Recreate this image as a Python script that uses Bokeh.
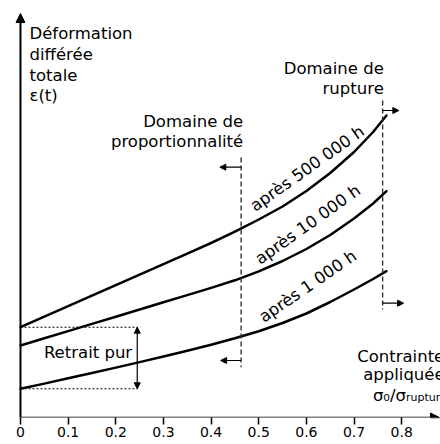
from bokeh.plotting import figure
from bokeh.models import Arrow, NormalHead, Label, FixedTicker, Range1d
from bokeh.embed import file_html
from bokeh.resources import INLINE

# ---------------- data ----------------
# applied stress ratio sigma0 / sigma_rupture
stress = [0.00, 0.05, 0.10, 0.15, 0.20, 0.25, 0.30, 0.35, 0.40, 0.45,
          0.50, 0.55, 0.60, 0.65, 0.70, 0.74, 0.768]
# total delayed strain (arbitrary units)
strain_500000h = [0.903, 1.008, 1.113, 1.218, 1.323, 1.428, 1.533, 1.638, 1.745, 1.858,
                  1.980, 2.110, 2.265, 2.445, 2.655, 2.855, 3.020]
strain_10000h = [0.720, 0.792, 0.864, 0.936, 1.008, 1.080, 1.152, 1.224, 1.296, 1.372,
                 1.462, 1.565, 1.685, 1.825, 1.990, 2.140, 2.263]
strain_1000h = [0.287, 0.339, 0.392, 0.445, 0.499, 0.554, 0.610, 0.668, 0.728, 0.792,
                0.862, 0.945, 1.040, 1.155, 1.280, 1.385, 1.463]
curve_labels = ["après 500 000 h", "après 10 000 h", "après 1 000 h"]

limit_proportionality = 0.463
limit_rupture = 0.760
shrinkage_x = 0.246

x_ticks = [0, 0.1, 0.2, 0.3, 0.4, 0.5, 0.6, 0.7, 0.8]
x_tick_labels = ["0", "0.1", "0.2", "0.3", "0.4", "0.5", "0.6", "0.7", "0.8"]

FONT = "DejaVu Sans"
FS = "16.5px"

p = figure(width=440, height=444, output_backend="svg", toolbar_location=None,
           x_range=Range1d(-0.04197, 0.88143), y_range=Range1d(0, 4.17),
           min_border_left=0, min_border_right=0, min_border_top=0, min_border_bottom=27)
p.outline_line_color = None
p.grid.visible = False
p.yaxis.visible = False
p.background_fill_color = "white"
p.border_fill_color = "white"

ax = p.xaxis[0]
ax.ticker = FixedTicker(ticks=x_ticks)
ax.major_label_overrides = {t: l for t, l in zip(x_ticks, x_tick_labels)}
ax.axis_line_color = None
ax.major_tick_out = 7
ax.major_tick_in = 0
ax.major_tick_line_width = 1.5
ax.major_tick_line_color = "black"
ax.minor_tick_line_color = None
ax.major_label_standoff = 2
ax.major_label_text_font = FONT
ax.major_label_text_font_size = "14px"
ax.major_label_text_color = "black"

# axes with arrow heads
p.add_layout(Arrow(end=NormalHead(size=9, fill_color="black", line_color="black"),
                   x_start=0, y_start=0, x_end=0, y_end=4.04,
                   line_width=2, line_color="black"))
p.add_layout(Arrow(end=NormalHead(size=9, fill_color="black", line_color="black"),
                   x_start=0, y_start=0, x_end=0.8793, y_end=0,
                   line_width=1.6, line_color="black"))

# curves
for ys in (strain_500000h, strain_10000h, strain_1000h):
    p.line(stress, ys, line_width=2.5, line_color="black", line_join="round", line_cap="round")

# curve labels
for (lx, ly, ang), txt in zip([(0.6017, 2.49, 0.616), (0.603, 1.93, 0.618), (0.603, 1.313, 0.602)],
                              curve_labels):
    p.add_layout(Label(x=lx, y=ly, text=txt, angle=ang, text_align="center",
                       text_baseline="middle", text_font=FONT, text_font_size=FS,
                       text_color="black"))

# domain limits (dashed)
p.line([limit_proportionality, limit_proportionality], [2.60, 0.503],
       line_dash="5 3", line_width=1.4, line_color="#333333")
p.line([limit_rupture, limit_rupture], [3.17, 1.08],
       line_dash="5 3", line_width=1.4, line_color="#333333")

def small_arrow(x0, x1, y):
    p.add_layout(Arrow(end=NormalHead(size=6, fill_color="black", line_color="black"),
                       x_start=x0, y_start=y, x_end=x1, y_end=y,
                       line_width=1.2, line_color="black"))

small_arrow(limit_proportionality, 0.4183, 2.503)
small_arrow(limit_proportionality, 0.4200, 0.570)
small_arrow(limit_rupture, 0.7940, 3.070)
small_arrow(limit_rupture, 0.8040, 1.143)

# pure shrinkage
p.line([0, shrinkage_x], [strain_500000h[0]] * 2, line_dash="2 2", line_width=1.1, line_color="black")
p.line([0, shrinkage_x], [strain_1000h[0]] * 2, line_dash="2 2", line_width=1.1, line_color="black")
p.add_layout(Arrow(start=NormalHead(size=6, fill_color="black", line_color="black"),
                   end=NormalHead(size=6, fill_color="black", line_color="black"),
                   x_start=shrinkage_x - 0.001, y_start=strain_1000h[0],
                   x_end=shrinkage_x - 0.001, y_end=strain_500000h[0],
                   line_width=1.2, line_color="black"))

def text(x, y, s, align="left", size=FS):
    p.add_layout(Label(x=x, y=y, text=s, text_align=align, text_baseline="alphabetic",
                       text_font=FONT, text_font_size=size, text_color="black"))

text(0.1417, 0.653, "Retrait pur", align="center")

# y axis title
for yy, s in zip([3.84, 3.63, 3.42, 3.22], ["Déformation", "différée", "totale", "ε(t)"]):
    text(0.0189, yy, s)

# domain titles
text(0.4674, 2.96, "Domaine de", align="right")
text(0.4674, 2.763, "proportionnalité", align="right")
text(0.7624, 3.487, "Domaine de", align="right")
text(0.7624, 3.287, "rupture", align="right")

# x axis title
text(0.7065, 0.61, "Contrainte")
text(0.7191, 0.43, "appliquée")
text(0.809, 0.225, "σ₀/σ", align="right")
text(0.809, 0.20, "rupture", size="11px")

open("out.html", "w").write(file_html(p, INLINE))
